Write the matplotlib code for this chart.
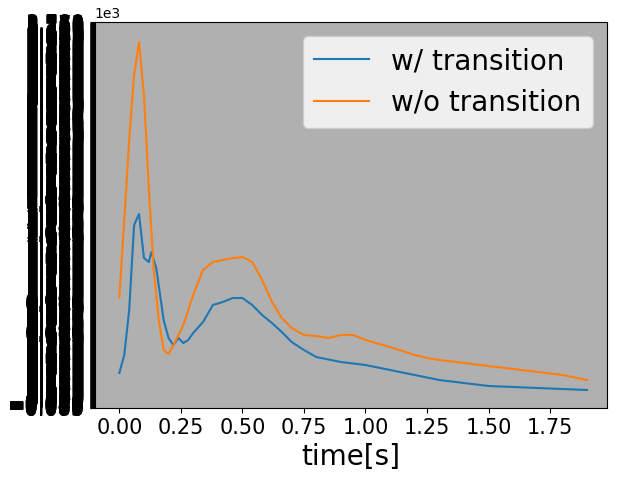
import matplotlib
matplotlib.use("Agg")
import matplotlib.pyplot as plt
import numpy as np
from matplotlib.ticker import MultipleLocator

t_w = [0,0.02,0.04,0.06,0.08,0.10,0.12,0.13,0.15,0.18,0.20,0.22,0.24,0.26,0.28,0.30,0.34,0.38,0.42,0.46,0.50,0.54,0.58,0.62,0.66,0.70,0.75,0.80,0.90,1.00,1.10,1.20,1.30,1.40,1.50,1.60,1.70,1.80,1.90]
w_trans = [270,450,900,1750,1860,1420,1380,1480,1320,800,620,550,620,570,600,670,780,950,980,1020,1020,950,850,770,680,580,500,430,380,350,300,250,200,170,140,130,120,110,100]
t_wo = [0,0.02,0.04,0.06,0.08,0.10,0.12,0.14,0.16,0.18,0.20,0.22,0.26,0.30,0.34,0.38,0.42,0.46,0.50,0.54,0.58,0.62,0.66,0.70,0.75,0.80,0.85,0.90,0.95,1.00,1.10,1.20,1.25,1.30,1.40,1.50,1.60,1.70,1.80,1.90]
wo_trans = [1030,1800,2600,3250,3580,3050,2100,1300,800,500,460,550,750,1050,1300,1380,1400,1420,1430,1380,1200,980,820,720,650,640,620,650,650,600,530,450,420,400,370,340,310,280,250,200]

fig = plt.figure(figsize=(6.4,4.8), dpi=100)
ax = fig.add_axes([0.148, 0.15, 0.800, 0.804])
ax.set_facecolor('#b0b0b0')
ax.plot(t_w, w_trans, color='#1f77b4', label='w/ transition')
ax.plot(t_wo, wo_trans, color='#ff7f0e', label='w/o transition')
ax.set_xlim(-0.1, 1.98)
ax.set_ylim(-80, 3780)
ax.xaxis.set_major_locator(MultipleLocator(0.25))
ax.yaxis.set_major_locator(MultipleLocator(5))
ax.ticklabel_format(axis='y', style='sci', scilimits=(0,0))
ax.tick_params(axis='y', labelsize=15)
ax.tick_params(axis='x', labelsize=15)
ax.set_xlabel('time[s]', fontsize=20)
ax.legend(fontsize=20, loc='upper right')
fig.savefig('out.png', dpi=100)
